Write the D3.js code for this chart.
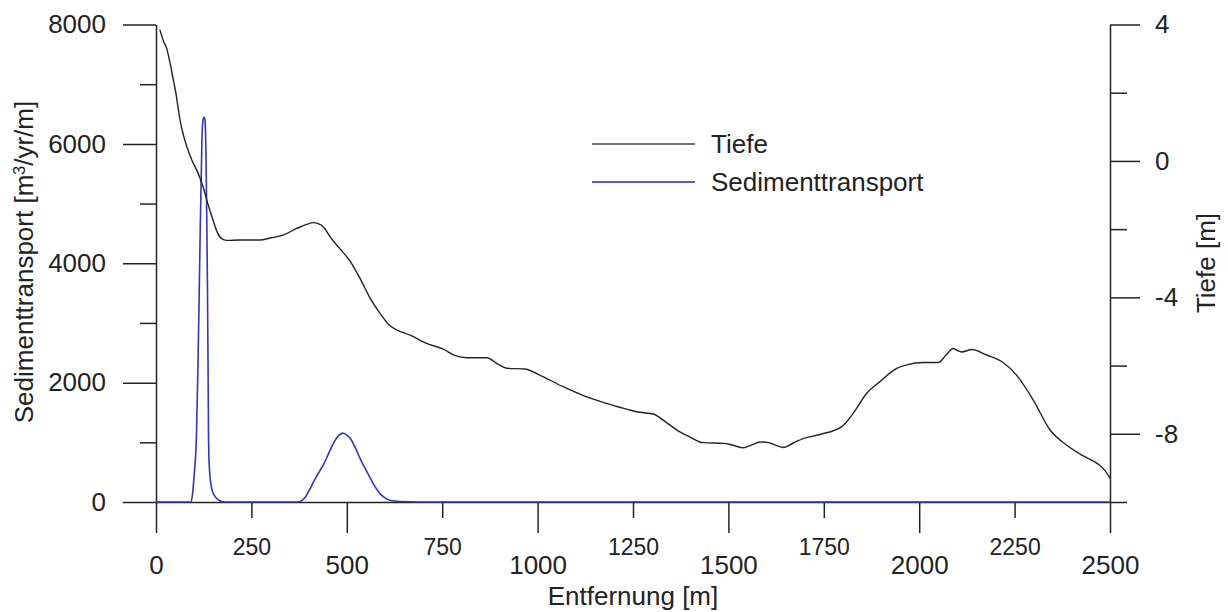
<!DOCTYPE html>
<html>
<head>
<meta charset="utf-8">
<script src="https://cdn.jsdelivr.net/npm/d3@7"></script>
<style>
  html, body { margin: 0; padding: 0; background: #fff; }
  svg { display: block; }
  text { font-family: "Liberation Sans", Arial, sans-serif; fill: #222; }
</style>
</head>
<body>
<svg id="chart" width="1228" height="612"></svg>
<script>
// ---- data ----
const tiefeDist = [10, 20, 28, 37, 45, 52, 58, 63, 72, 82, 95, 110, 124, 137, 150, 160, 172, 185,
  220, 272, 300, 334, 369, 395, 412, 425, 440, 456, 480, 508, 535, 560, 587, 610, 630, 666, 709,
  753, 784, 814, 867, 895, 919, 967, 1000, 1067, 1120, 1181, 1240, 1268, 1303, 1335, 1365, 1400,
  1434, 1487, 1510, 1539, 1560, 1583, 1605, 1625, 1644, 1670, 1696, 1740, 1797, 1827, 1862, 1897,
  1941, 1967, 2011, 2050, 2070, 2089, 2100, 2111, 2138, 2177, 2220, 2255, 2299, 2343, 2386, 2430,
  2469, 2485, 2500];
const tiefeVal = [3.85, 3.5, 3.3, 2.86, 2.4, 2.0, 1.55, 1.2, 0.75, 0.38, 0.0, -0.35, -0.78, -1.3,
  -1.75, -2.08, -2.28, -2.33, -2.32, -2.32, -2.26, -2.17, -1.98, -1.86, -1.81, -1.84, -1.95, -2.22,
  -2.55, -2.93, -3.45, -4.0, -4.47, -4.8, -4.95, -5.11, -5.35, -5.52, -5.71, -5.77, -5.77, -5.95,
  -6.08, -6.10, -6.25, -6.62, -6.88, -7.11, -7.3, -7.37, -7.42, -7.65, -7.89, -8.1, -8.26, -8.28,
  -8.33, -8.41, -8.33, -8.24, -8.26, -8.34, -8.40, -8.27, -8.14, -8.02, -7.79, -7.40, -6.82, -6.47,
  -6.08, -5.98, -5.91, -5.91, -5.7, -5.50, -5.56, -5.60, -5.53, -5.69, -5.91, -6.28, -7.01, -7.89,
  -8.33, -8.65, -8.89, -9.05, -9.3];

const sedDist = [0, 92, 96, 100, 106, 110, 113, 116, 119, 121, 124, 127, 129, 131, 133, 135, 136.5,
  137.5, 139, 142, 147, 155, 165, 180,
  370, 380, 390, 400, 410, 420, 430, 440, 450, 460, 470, 480, 489, 498, 510, 520, 530, 540, 550,
  560, 570, 580, 590, 600, 615, 640, 690, 2500];
const sedVal = [0, 0, 150, 450, 1100, 2300, 3400, 4600, 5600, 6200, 6420, 6450, 6350, 5800, 4800,
  3500, 2200, 1200, 700, 400, 200, 90, 30, 0,
  0, 15, 70, 180, 300, 420, 530, 640, 780, 920, 1040, 1120, 1154, 1130, 1060, 940, 800, 660, 540,
  420, 300, 200, 120, 70, 25, 8, 0, 0];

const xMajor = [0, 500, 1000, 1500, 2000, 2500];
const xMinor = [250, 750, 1250, 1750, 2250];
const yLeftMajor = [0, 2000, 4000, 6000, 8000];
const yLeftMinor = [1000, 3000, 5000, 7000];
const yRightMajor = [4, 0, -4, -8];
const yRightMinor = [2, -2, -6, -10];

// ---- chart ----
const svg = d3.select("#chart");
const x = d3.scaleLinear().domain([0, 2500]).range([156, 1110]);
const yL = d3.scaleLinear().domain([0, 8000]).range([502, 24.5]);
const yR = d3.scaleLinear().domain([-10, 4]).range([502, 24.5]);
const fmt = d => String(d);

function styleAxis(g) {
  g.selectAll("path.domain").attr("stroke", "#222").attr("stroke-width", 1.5);
  g.selectAll(".tick line").attr("stroke", "#222").attr("stroke-width", 1.5);
  g.selectAll("text").attr("fill", "#222").style("font-family", '"Liberation Sans", Arial, sans-serif');
}

// x axis
const gxMaj = svg.append("g").attr("transform", "translate(0,502)")
  .call(d3.axisBottom(x).tickValues(xMajor).tickSize(31).tickSizeOuter(0).tickPadding(23).tickFormat(fmt));
gxMaj.selectAll("text").style("font-size", "26px");
styleAxis(gxMaj);
const gxMin = svg.append("g").attr("transform", "translate(0,502)")
  .call(d3.axisBottom(x).tickValues(xMinor).tickSize(16).tickSizeOuter(0).tickPadding(21).tickFormat(fmt));
gxMin.select("path.domain").remove();
gxMin.selectAll("text").style("font-size", "23px");
styleAxis(gxMin);

// left axis
const gyL = svg.append("g").attr("transform", "translate(156,0)")
  .call(d3.axisLeft(yL).tickValues(yLeftMajor).tickSize(33).tickSizeOuter(0).tickPadding(17).tickFormat(fmt));
gyL.selectAll("text").style("font-size", "26px");
styleAxis(gyL);
const gyLm = svg.append("g").attr("transform", "translate(156,0)")
  .call(d3.axisLeft(yL).tickValues(yLeftMinor).tickSize(16).tickSizeOuter(0).tickFormat(""));
gyLm.select("path.domain").remove();
styleAxis(gyLm);

// right axis
const gyR = svg.append("g").attr("transform", "translate(1110,0)")
  .call(d3.axisRight(yR).tickValues(yRightMajor).tickSize(30).tickSizeOuter(0).tickPadding(15).tickFormat(fmt));
gyR.selectAll("text").style("font-size", "26px");
styleAxis(gyR);
const gyRm = svg.append("g").attr("transform", "translate(1110,0)")
  .call(d3.axisRight(yR).tickValues(yRightMinor).tickSize(17).tickSizeOuter(0).tickFormat(""));
gyRm.select("path.domain").remove();
styleAxis(gyRm);

// lines
const sedData = sedDist.map((d, i) => [d, sedVal[i]]);
const tiefeData = tiefeDist.map((d, i) => [d, tiefeVal[i]]);

svg.append("path").datum(sedData)
  .attr("fill", "none").attr("stroke", "#3535b8").attr("stroke-width", 1.6)
  .attr("d", d3.line().x(d => x(d[0])).y(d => yL(d[1])).curve(d3.curveMonotoneX));

svg.append("path").datum(tiefeData)
  .attr("fill", "none").attr("stroke", "#222").attr("stroke-width", 1.4)
  .attr("d", d3.line().x(d => x(d[0])).y(d => yR(d[1])).curve(d3.curveMonotoneX));

// legend
const legend = [
  { name: "Tiefe", color: "#777", y: 144 },
  { name: "Sedimenttransport", color: "#5a5acc", y: 182 }
];
legend.forEach(l => {
  svg.append("line").attr("x1", 592).attr("x2", 695).attr("y1", l.y).attr("y2", l.y)
    .attr("stroke", l.color).attr("stroke-width", 2);
  svg.append("text").attr("x", 711).attr("y", l.y).attr("dy", "0.33em")
    .style("font-size", "26px").text(l.name);
});

// axis titles
svg.append("text").attr("x", 633).attr("y", 605).attr("text-anchor", "middle")
  .style("font-size", "26px").text("Entfernung [m]");

const lt = svg.append("text").attr("transform", "translate(33,262) rotate(-90)")
  .attr("text-anchor", "middle").style("font-size", "26px");
lt.append("tspan").text("Sedimenttransport [m");
lt.append("tspan").attr("baseline-shift", "super").style("font-size", "16px").text("3");
lt.append("tspan").text("/yr/m]");

svg.append("text").attr("transform", "translate(1215,263) rotate(-90)")
  .attr("text-anchor", "middle").style("font-size", "26px").text("Tiefe [m]");
</script>
</body>
</html>
